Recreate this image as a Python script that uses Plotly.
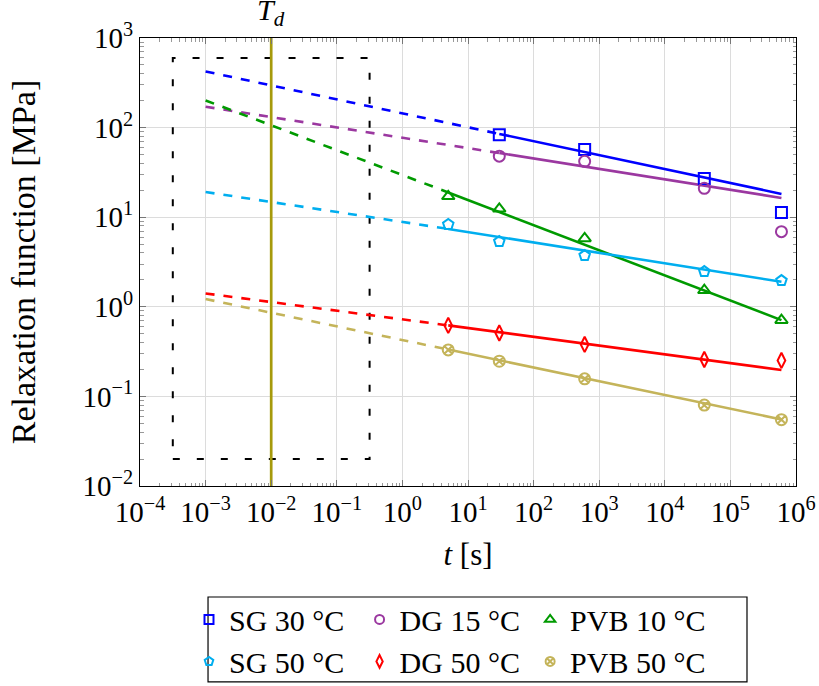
import plotly.graph_objects as go

# ---------------- data ----------------
t_pts = [5, 30, 600, 4e4, 6e5]

series_names = ["SG 30 °C", "DG 15 °C", "PVB 10 °C", "SG 50 °C", "DG 50 °C", "PVB 50 °C"]
sg30 = [None, 83, 57, 27, 11.3]
dg15 = [None, 48, 42, 21, 6.9]
pvb10 = [17.1, 12.4, 5.8, 1.53, 0.71]
sg50 = [8.3, 5.35, 3.73, 2.47, 1.96]
dg50 = [0.62, 0.51, 0.38, 0.258, 0.252]
pvb50 = [0.33, 0.247, 0.157, 0.080, 0.055]
series_values = [sg30, dg15, pvb10, sg50, dg50, pvb50]

# power-law fits: extrapolated (dashed) from t_origin to t_start, fitted (solid) to t_end
fit_t_origin = 1e-3
fit_t_end = 6e5
fit_t_start = [30, 30, 5, 5, 5, 5]
fit_at_origin = [423, 171, 201, 19.1, 1.41, 1.22]
fit_at_start = [85, 52, 18.9, 7.4, 0.62, 0.333]
fit_at_end = [18.2, 16.4, 0.71, 1.9, 0.197, 0.0553]

# dashed region and T_d marker
box_t = [10 ** -3.5, 10 ** -0.5]
box_E = [0.02, 600]
t_d = 0.01

x_tickvals = [1e-4, 1e-3, 1e-2, 1e-1, 1, 1e1, 1e2, 1e3, 1e4, 1e5, 1e6]
x_ticktext = ["10<sup>−4</sup>", "10<sup>−3</sup>", "10<sup>−2</sup>", "10<sup>−1</sup>", "10<sup>0</sup>",
              "10<sup>1</sup>", "10<sup>2</sup>", "10<sup>3</sup>", "10<sup>4</sup>", "10<sup>5</sup>",
              "10<sup>6</sup>"]
y_tickvals = [1e-2, 1e-1, 1, 1e1, 1e2, 1e3]
y_ticktext = ["10<sup>−2</sup>", "10<sup>−1</sup>", "10<sup>0</sup>", "10<sup>1</sup>", "10<sup>2</sup>",
              "10<sup>3</sup>"]

# ---------------- style ----------------
colors = ["#0000FF", "#9B38A0", "#009A00", "#00AEEF", "#FF0000", "#C4B45A"]
symbols = ["square-open", "circle-open", "triangle-up-open", "pentagon-open", "diamond-tall-open",
           "circle-x-open"]
FONT = "Liberation Serif"
FS = 29

fig = go.Figure()

fig.add_trace(go.Scatter(
    x=[box_t[0], box_t[1], box_t[1], box_t[0], box_t[0]],
    y=[box_E[0], box_E[0], box_E[1], box_E[1], box_E[0]],
    mode="lines", line=dict(color="black", width=2, dash="7px,17px"),
    showlegend=False, hoverinfo="skip"))

fig.add_trace(go.Scatter(
    x=[t_d, t_d], y=[1e-2, 1e3], mode="lines",
    line=dict(color="#A69A0C", width=2.7), showlegend=False, hoverinfo="skip"))

for i in range(6):
    fig.add_trace(go.Scatter(
        x=[fit_t_origin, fit_t_start[i]], y=[fit_at_origin[i], fit_at_start[i]],
        mode="lines", line=dict(color=colors[i], width=2.6, dash="dash"),
        showlegend=False, hoverinfo="skip"))
    fig.add_trace(go.Scatter(
        x=[fit_t_start[i], fit_t_end], y=[fit_at_start[i], fit_at_end[i]],
        mode="lines", line=dict(color=colors[i], width=2.6),
        showlegend=False, hoverinfo="skip"))

for i in range(6):
    fig.add_trace(go.Scatter(
        x=t_pts, y=series_values[i], mode="markers", name=series_names[i], showlegend=False,
        marker=dict(symbol=symbols[i], size=11, color=colors[i], line=dict(width=2, color=colors[i]))))

# legend entries (smaller symbols, as in the reference legend)
for i in range(6):
    fig.add_trace(go.Scatter(
        x=[None], y=[None], mode="markers", name=series_names[i], showlegend=True,
        marker=dict(symbol=symbols[i], size=9, color=colors[i], line=dict(width=2, color=colors[i]))))

axis_common = dict(
    type="log", showline=True, linecolor="black", linewidth=1, mirror="ticks",
    ticks="inside", ticklen=6, tickcolor="#777777", tickwidth=1, automargin=False,
    showgrid=True, gridcolor="#DCDCDC", gridwidth=1, zeroline=False,
    tickfont=dict(family=FONT, size=FS, color="black"),
    minor=dict(ticks="inside", ticklen=3.5, tickcolor="#999999", tickwidth=1, showgrid=False, dtick="D1"),
)

fig.update_layout(
    width=819, height=686,
    margin=dict(l=140, r=23, t=38, b=200),
    paper_bgcolor="white", plot_bgcolor="white",
    font=dict(family=FONT, size=FS, color="black"),
    xaxis=dict(axis_common, range=[-4, 6], tickvals=x_tickvals, ticktext=x_ticktext,
               title=dict(text="<i>t</i> [s]", font=dict(family=FONT, size=31), standoff=16)),
    yaxis=dict(axis_common, range=[-2, 3], tickvals=y_tickvals, ticktext=y_ticktext,
               title=dict(text="Relaxation function [MPa]", font=dict(family=FONT, size=34), standoff=36)),
    legend=dict(orientation="h", x=0.0747, xanchor="left", xref="paper",
                y=0.135, yanchor="top", yref="container",
                borderwidth=0, bgcolor="rgba(0,0,0,0)",
                font=dict(family=FONT, size=30), tracegroupgap=0, itemwidth=30,
                entrywidth=0.26, entrywidthmode="fraction"),
    showlegend=True,
)

# legend frame
fig.add_shape(type="rect", xref="paper", yref="paper",
              x0=0.1037, x1=0.9253, y0=-0.437, y1=-0.2478,
              line=dict(color="black", width=1.2), fillcolor="rgba(0,0,0,0)", layer="above")

fig.add_annotation(x=-2, xref="x", y=1, yref="paper", yanchor="bottom", yshift=5,
                   text="<i>T<sub>d</sub></i>", showarrow=False,
                   font=dict(family=FONT, size=30, color="black"))

fig.write_html("out.html", config={"displayModeBar": False},
               post_script="document.body.style.margin='0px';")
